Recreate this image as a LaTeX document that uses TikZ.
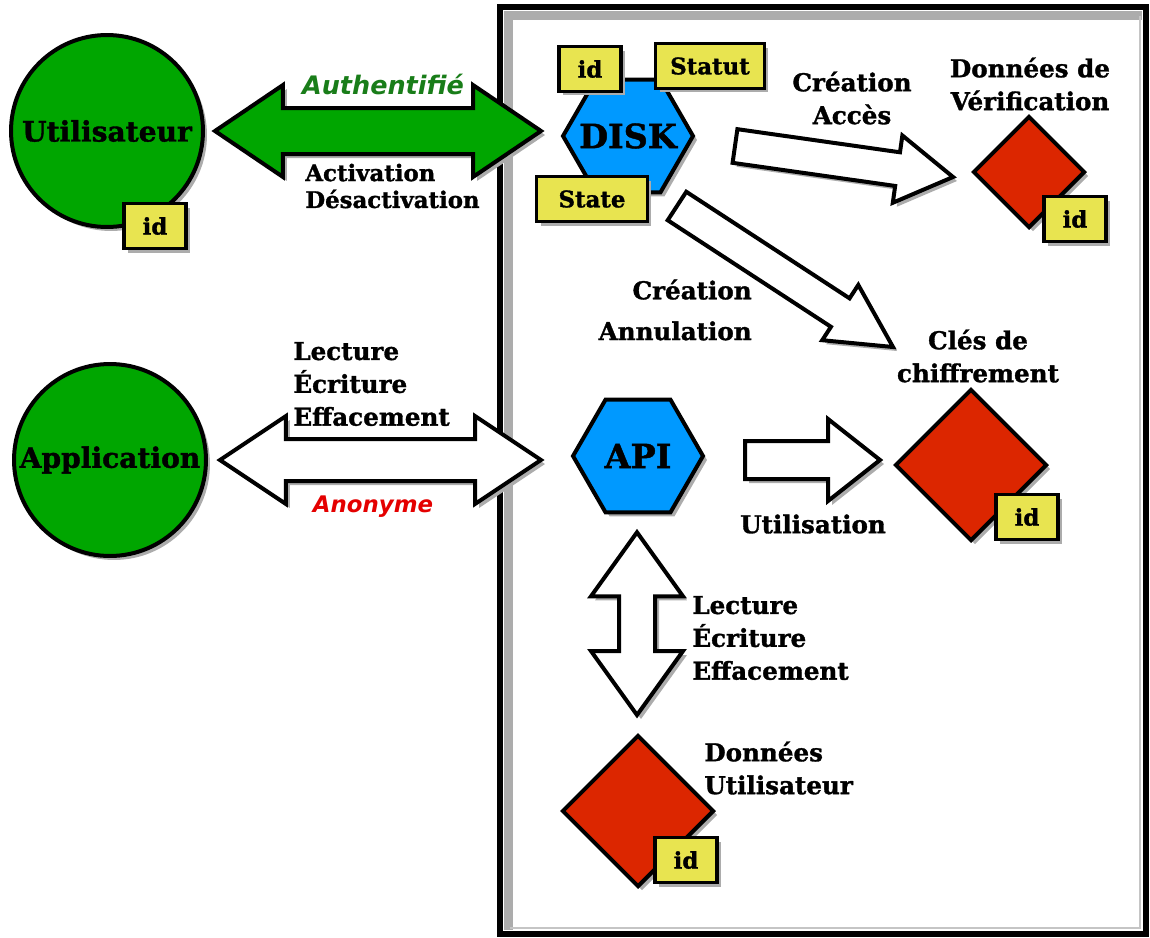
\documentclass[tikz,border=0pt]{standalone}
\usepackage{fontspec}
\setmainfont{DejaVu Serif}[BoldFeatures={FakeBold=1.3}]
\newfontfamily\sansfam{DejaVu Sans}
\usetikzlibrary{shapes.geometric,calc,shadows}
\definecolor{cgreen}{RGB}{0,166,0}
\definecolor{cblue}{RGB}{0,153,255}
\definecolor{cred}{RGB}{220,38,0}
\definecolor{cyel}{RGB}{232,228,80}
\definecolor{tgreen}{RGB}{25,125,25}
\definecolor{tred}{RGB}{228,0,0}
\definecolor{shadowgray}{RGB}{172,172,172}
\newcommand\singlearrow[6]{%
  \path ($(#3)!#6!(#2)$) coordinate (sC);
  \draw[#1] ($(#2)!#4!90:(#3)$) -- ($(sC)!#4!90:(#3)$) -- ($(sC)!#5!90:(#3)$) -- (#3)
    -- ($(sC)!#5!-90:(#3)$) -- ($(sC)!#4!-90:(#3)$) -- ($(#2)!#4!-90:(#3)$) -- cycle;}
\newcommand\doublearrow[6]{%
  \path ($(#2)!#6!(#3)$) coordinate (dA) ($(#3)!#6!(#2)$) coordinate (dB);
  \draw[#1] (#2) -- ($(dA)!#5!90:(#3)$) -- ($(dA)!#4!90:(#3)$) -- ($(dB)!#4!90:(#3)$)
    -- ($(dB)!#5!90:(#3)$) -- (#3) -- ($(dB)!#5!-90:(#3)$) -- ($(dB)!#4!-90:(#3)$)
    -- ($(dA)!#4!-90:(#3)$) -- ($(dA)!#5!-90:(#3)$) -- cycle;}
\tikzset{
  shad/.style={drop shadow={shadow xshift=0.08cm,shadow yshift=-0.08cm,fill=shadowgray,opacity=1}},
  thing/.style={draw=black, line width=0.08cm, shad, inner sep=0, font=\bfseries\fontsize{16}{19}\selectfont},
  person/.style={thing, circle, fill=cgreen, minimum size=3.84cm},
  proc/.style={thing, regular polygon, regular polygon sides=6, fill=cblue, minimum size=2.6cm},
  proclabel/.style={font=\bfseries\fontsize{19}{22}\selectfont, inner sep=0},
  store/.style={thing, diamond, aspect=1, fill=cred},
  tag/.style={draw=black, line width=0.07cm, fill=cyel, shad, inner sep=0, minimum height=0.9cm, font=\bfseries\fontsize{13}{15}\selectfont},
  idtag/.style={tag, minimum width=1.24cm},
  lab/.style={inner sep=0, font=\bfseries\fontsize{14}{#1}\selectfont},
  lab/.default=18.7,
  barrow/.style={draw=black, line width=0.08cm, line join=miter, shad},
}
\begin{document}
\begin{tikzpicture}[x=0.02cm,y=-0.02cm]
\useasboundingbox (0,0) rectangle (1150,937);
% container
\draw[shadowgray, line width=0.18cm] (508,930) -- (508,15) -- (1142,15);
\draw[shadowgray!70, line width=0.05cm] (510,928) -- (1140,928) -- (1140,16);
\draw[black, line width=0.11cm] (500,7) rectangle (1146,934);

% main nodes
\node[person] (user) at (107,131) {Utilisateur};
\node[person] (app) at (110,460) {Application};
\node[proc, label={[proclabel]center:DISK}] (disk) at (628,136) {};
\node[proc, label={[proclabel]center:API}] (api) at (638,456) {};
\node[store, minimum width=2.24cm, minimum height=2.24cm] (verif) at (1029,172) {};
\node[store, minimum width=3.04cm, minimum height=3.04cm] (keys) at (971,465) {};
\node[store, minimum width=3.04cm, minimum height=3.04cm] (udata) at (638,811) {};

% tags
\node[idtag] (userid) at (155,226) {id};
\node[idtag] (diskid) at (590,69) {id};
\node[tag, minimum width=2.18cm] (statut) at (710,66) {Statut};
\node[tag, minimum width=2.22cm] (state) at (592,199) {State};
\node[idtag] (verifid) at (1075,219) {id};
\node[idtag] (keysid) at (1027,517) {id};
\node[idtag] (udid) at (686,860) {id};

% connector ends
\coordinate (ga1) at ($(user.east)+(10,0)$);
\coordinate (ga2) at (541,131);
\coordinate (aa1) at ($(app.east)+(12,0)$);
\coordinate (aa2) at (541,460);
\coordinate (ca1) at (735,146);
\coordinate (ca2) at ($(verif.west)+(-18,5)$);
\coordinate (da1) at (677,206);
\coordinate (da2) at (893,347);
\coordinate (ka1) at (745,460);
\coordinate (ka2) at ($(keys.west)+(-13,-5)$);
\coordinate (va1) at ($(api.south)+(-1,18)$);
\coordinate (va2) at ($(udata.north)+(-1,-18)$);

% connectors
\doublearrow{barrow, fill=cgreen}{ga1}{ga2}{0.46cm}{0.92cm}{1.36cm}
\doublearrow{barrow, fill=white}{aa1}{aa2}{0.42cm}{0.88cm}{1.32cm}
\singlearrow{barrow, fill=white}{ca1}{ca2}{0.34cm}{0.68cm}{1.12cm}
\singlearrow{barrow, fill=white}{da1}{da2}{0.34cm}{0.66cm}{1.26cm}
\singlearrow{barrow, fill=white}{ka1}{ka2}{0.38cm}{0.82cm}{1.04cm}
\doublearrow{barrow, fill=white}{va1}{va2}{0.36cm}{0.92cm}{1.28cm}

% labels
\node[inner sep=0, text=tgreen, font=\sansfam\bfseries\itshape\fontsize{14.5}{18}\selectfont] (lauth) at (383,84) {Authentifié};
\node[inner sep=0, font=\bfseries\fontsize{13}{15.3}\selectfont, anchor=west, align=left] (lact) at (305,186) {Activation\\Désactivation};
\node[lab, anchor=west, align=left] (llec1) at (293,384) {Lecture\\Écriture\\Effacement};
\node[inner sep=0, text=tred, font=\sansfam\bfseries\itshape\fontsize{13}{16}\selectfont] (lanon) at (373,507) {Anonyme};
\node[lab, align=center] (lcrea) at (852,98) {Création\\Accès};
\node[lab, align=center] (lverif) at (1030,84) {Données de\\Vérification};
\node[lab=23.2, anchor=east, align=right] (lann) at (752,310) {Création\\Annulation};
\node[lab, align=center] (lkeys) at (978,356) {Clés de\\chiffrement};
\node[lab] (lutil) at (813,524) {Utilisation};
\node[lab, anchor=west, align=left] (llec2) at (692,638) {Lecture\\Écriture\\Effacement};
\node[lab, anchor=west, align=left] (ludata) at (704,768) {Données\\Utilisateur};
\end{tikzpicture}
\end{document}
